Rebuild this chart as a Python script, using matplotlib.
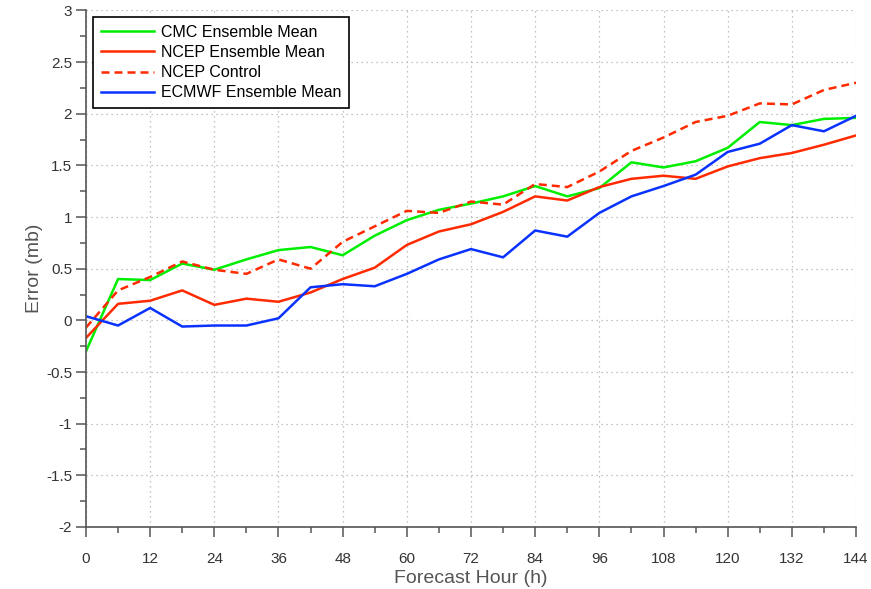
import matplotlib
matplotlib.use("Agg")
import matplotlib.pyplot as plt
from matplotlib.ticker import MultipleLocator

hours = list(range(0, 145, 6))
cmc_mean = [-0.30, 0.40, 0.39, 0.55, 0.49, 0.59, 0.68, 0.71, 0.63, 0.82, 0.97, 1.07, 1.13,
            1.20, 1.30, 1.20, 1.28, 1.53, 1.48, 1.54, 1.67, 1.92, 1.89, 1.95, 1.96]
ncep_mean = [-0.17, 0.16, 0.19, 0.29, 0.15, 0.21, 0.18, 0.27, 0.40, 0.51, 0.73, 0.86, 0.93,
             1.05, 1.20, 1.16, 1.29, 1.37, 1.40, 1.37, 1.49, 1.57, 1.62, 1.70, 1.79]
ncep_ctrl = [-0.07, 0.29, 0.42, 0.57, 0.49, 0.45, 0.59, 0.50, 0.76, 0.91, 1.06, 1.04, 1.15,
             1.12, 1.32, 1.29, 1.44, 1.64, 1.77, 1.92, 1.98, 2.10, 2.09, 2.23, 2.30]
ecmwf_mean = [0.04, -0.05, 0.12, -0.06, -0.05, -0.05, 0.02, 0.32, 0.35, 0.33, 0.45, 0.59, 0.69,
              0.61, 0.87, 0.81, 1.04, 1.20, 1.30, 1.41, 1.63, 1.71, 1.89, 1.83, 1.98]

plt.rcParams['font.family'] = ['Liberation Sans', 'DejaVu Sans']

fig = plt.figure(figsize=(8.71, 5.89), dpi=100)
ax = fig.add_axes([0.0987, 0.1053, 0.8841, 0.877])

lw = 1.8
ax.plot(hours, cmc_mean, color='#00ee00', lw=lw, label='CMC Ensemble Mean')
ax.plot(hours, ncep_mean, color='#ff2a00', lw=lw, label='NCEP Ensemble Mean')
ax.plot(hours, ncep_ctrl, color='#ff2a00', lw=lw, ls=(0, (3.2, 2.0)), label='NCEP Control')
ax.plot(hours, ecmwf_mean, color='#0a32ff', lw=lw, label='ECMWF Ensemble Mean')

ax.set_xlim(0, 144)
ax.set_ylim(-2, 3)
ax.xaxis.set_major_locator(MultipleLocator(12))
ax.xaxis.set_minor_locator(MultipleLocator(6))
ax.yaxis.set_minor_locator(MultipleLocator(0.25))
ax.set_yticks([-2, -1.5, -1, -0.5, 0, 0.5, 1, 1.5, 2, 2.5, 3])
ax.set_yticklabels(['-2', '-1.5', '-1', '-0.5', '0', '0.5', '1', '1.5', '2', '2.5', '3'])

ax.grid(True, which='major', color='#b0b0b0', ls=(0, (1, 3)), lw=0.9)
for s in ['top', 'right']:
    ax.spines[s].set_visible(False)
for s in ['left', 'bottom']:
    ax.spines[s].set_color('#555555')
    ax.spines[s].set_linewidth(1.2)

ax.tick_params(axis='both', which='major', direction='out', length=7, width=1.1,
               color='#555555', labelsize=11, labelcolor='#333333')
ax.tick_params(axis='both', which='minor', direction='out', length=4, width=1.1, color='#555555')
ax.tick_params(axis='x', which='major', pad=11)
ax.tick_params(axis='y', which='major', pad=3)

ax.set_xlabel('Forecast Hour (h)', fontsize=14, color='#555555', labelpad=3)
ax.set_ylabel('Error (mb)', fontsize=14, color='#555555', labelpad=2)

leg = ax.legend(loc='upper left', bbox_to_anchor=(0.009, 0.988), fontsize=11.5,
                frameon=True, fancybox=False, framealpha=1, edgecolor='black',
                handlelength=3.3, borderpad=0.5, labelspacing=0.33, handletextpad=0.45,
                borderaxespad=0)
leg.get_frame().set_linewidth(1.2)

fig.savefig('out.png', dpi=100)
